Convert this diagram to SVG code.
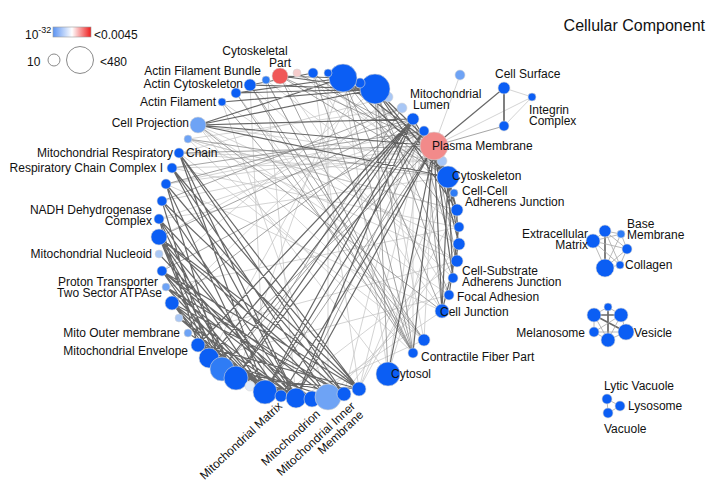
<svg xmlns="http://www.w3.org/2000/svg" width="710" height="481" viewBox="0 0 710 481">
<defs>
<linearGradient id="pg" x1="0" y1="0" x2="1" y2="0">
<stop offset="0" stop-color="#5b93f2"/><stop offset="0.5" stop-color="#ffffff"/><stop offset="1" stop-color="#ee1c1c"/>
</linearGradient>
</defs>
<style>
text{font-family:"Liberation Sans",Arial,sans-serif;font-size:12px;fill:#111}
.t{font-size:16px}
.e1{stroke:#4d4d4d;stroke-width:1.2;fill:none;stroke-opacity:0.85}
.e2{stroke:#7a7a7a;stroke-width:0.8;fill:none;stroke-opacity:0.85}
.e3{stroke:#c2c2c2;stroke-width:0.7;fill:none}
.e4{stroke:#a8a8a8;stroke-width:0.8;fill:none}
.e5{stroke:#6a6a6a;stroke-width:1.7;fill:none}
circle{stroke:#d6d6d6;stroke-width:0.6}
.b{fill:#0b5ef4}.m{fill:#2f7cf5}.l{fill:#6ea3f5}.vl{fill:#a9c7f5}.xl{fill:#e3ecf8}
.pk{fill:#f28a8a}.rd{fill:#f05858}.lp{fill:#f6cccc}
.lg{fill:#fff;stroke:#8a8a8a;stroke-width:1}
</style>
<rect width="710" height="481" fill="#fff"/>
<text class="t" x="705" y="31" text-anchor="end">Cellular Component</text>
<g id="legend">
<text x="25" y="39">10<tspan dy="-6" font-size="9">-32</tspan></text>
<rect x="53" y="27" width="38" height="10" fill="url(#pg)" stroke="#9a9a9a" stroke-width="0.6"/>
<text x="94" y="39">&lt;0.0045</text>
<text x="27" y="66">10</text>
<circle class="lg" cx="54" cy="60" r="6"/>
<circle class="lg" cx="80" cy="60" r="13.5"/>
<text x="100" y="66">&lt;480</text>
</g>
<g id="connectors">
<path class="e3" d="M198 125L459 244M198 125L449 295M198 125L424 340M188 139L457 210M188 139L457 261M179 153L448 177M172 168L442 161M166 184L434 146M266 80L296 398M250 85L265 392M222 102L328 397M313 73L359 389M328 73L328 397M360 83L209 358M343 78L236 378M388 97L172 303M375 89L162 271M402 108L159 237M424 131L166 184M442 161L179 153M448 177L159 219M457 210L188 139M459 227L166 287M457 261L188 333M449 295L209 358M424 340L236 93M413 353L266 80M388 374L343 78M388 374L424 131M359 389L457 210M344 394L459 244M328 397L453 278M312 399L442 311M296 398L424 340M281 396L457 261M413 353L413 119M424 340L434 146M424 340L375 89M388 374L448 177M442 311L280 76M449 295L313 73M453 278L250 85M457 261L222 102M459 227L266 80M454 193L313 73M442 161L198 125M434 146L532 97M434 146L460 75M504 88L532 97M532 97L504 126M360 83L448 177M328 73L434 146M297 73L448 177M188 139L413 353M179 153L424 340M166 184L442 311M198 125L388 374M172 168L457 227M162 201L434 146M159 219L424 131M188 139L402 108M179 153L388 97M359 389L424 131M344 394L413 119M359 389L448 177"/>
<path class="e2" d="M198 125L442 311M188 139L448 177M179 153L434 146M172 168L424 131M166 184L413 119M162 201L402 108M250 85L413 353M236 93L413 353M266 80L413 353M222 102L424 340M250 85L424 340M388 374L375 89M434 146L504 126M434 146L459 227M434 146L457 261M424 131L442 311M413 119L457 261M343 78L459 227M375 89L449 295M375 89L413 353M313 73L448 177M297 73L434 146M280 76L434 146M280 76L448 177M159 237L413 119M162 271L424 131M172 303L413 119M209 358L434 146M222 369L424 131M236 378L402 108M265 392L434 146M296 398L424 131M343 78L442 311M375 89L453 278M313 73L413 353M280 76L413 353M343 78L413 353"/>
<path class="e1" d="M179 153L265 392M179 153L296 398M179 153L344 394M179 153L359 389M172 168L296 398M172 168L328 397M172 168L359 389M166 184L265 392M166 184L344 394M162 201L296 398M162 201L359 389M159 219L281 396M159 219L328 397M159 237L236 378M159 237L265 392M159 237L296 398M159 237L344 394M159 237L359 389M162 271L265 392M162 271L312 399M162 271L359 389M172 303L265 392M172 303L296 398M172 303L344 394M198 345L296 398M198 345L359 389M209 358L328 397M222 369L344 394M159 254L296 398M166 287L312 399M159 237L222 369M159 237L209 358M162 271L236 378M172 303L236 378M172 303L222 369M179 318L265 392M179 318L296 398M188 333L281 396M198 345L265 392M209 358L296 398M222 369L312 399M236 378L359 389M162 201L209 358M166 184L222 369M159 219L236 378M159 219L198 345M166 287L265 392M166 287L344 394M162 271L328 397M413 119L209 358M413 119L222 369M413 119L236 378M413 119L265 392M413 119L296 398M424 131L236 378M424 131L265 392M434 146L281 396M434 146L296 398M413 119L198 345M343 78L448 177M375 89L448 177M375 89L434 146M343 78L434 146M375 89L457 210M448 177L457 210M448 177L459 244M448 177L453 278M448 177L442 311M457 210L457 261M459 227L449 295M459 244L442 311M434 146L448 177M434 146L457 210M434 146L459 244M434 146L453 278M434 146L442 311M424 131L448 177M413 119L448 177M434 146L504 88M434 146L413 353M434 146L388 374M375 89L280 76M343 78L280 76M375 89L250 85M343 78L236 93M250 85L313 73M198 125L343 78M198 125L375 89M222 102L375 89M236 93L375 89M198 125L434 146M198 125L448 177M198 125L413 119"/>
<path class="e5" d="M504 88L504 126M605 231L605 268M621 315L594 315M594 315L626 332M608 307L608 340"/>
<path class="e4" d="M593 241L605 268M605 231L593 241M605 231L627 249M605 231L621 234M593 241L627 249M621 234L605 268M621 234L627 249M627 249L605 268M593 241L620 265M605 231L620 265M605 268L620 265M627 249L620 265M621 234L593 241M608 307L594 315M608 307L621 315M594 315L594 332M594 332L608 340M621 315L626 332M626 332L608 340M594 315L608 340M594 332L626 332M621 315L594 332M621 315L608 340M607 399L620 406M620 406L608 413M607 399L608 413"/>
</g>
<g id="n1"><circle class="l" cx="198" cy="125" r="8"/><text x="189" y="127" text-anchor="end">Cell Projection</text></g>
<g id="n2"><circle class="l" cx="188" cy="139" r="4"/></g>
<g id="n3"><circle class="b" cx="179" cy="153" r="5"/><text y="157"><tspan x="37">Mitochondrial Respiratory</tspan><tspan x="186">Chain</tspan></text></g>
<g id="n4"><circle class="b" cx="172" cy="168" r="5"/><text x="163" y="172" text-anchor="end">Respiratory Chain Complex I</text></g>
<g id="n5"><circle class="b" cx="166" cy="184" r="5"/></g>
<g id="n6"><circle class="b" cx="162" cy="201" r="5"/></g>
<g id="n7"><circle class="b" cx="159" cy="219" r="5"/><text text-anchor="end" font-size="11.5"><tspan x="152" y="214">NADH Dehydrogenase</tspan><tspan x="152" y="225">Complex</tspan></text></g>
<g id="n8"><circle class="b" cx="159" cy="237" r="8"/></g>
<g id="n9"><circle class="vl" cx="159" cy="254" r="4"/><text x="152" y="258" text-anchor="end">Mitochondrial Nucleoid</text></g>
<g id="n10"><circle class="b" cx="162" cy="271" r="5"/></g>
<g id="n11"><circle class="l" cx="166" cy="287" r="4"/><text text-anchor="end" font-size="11.5"><tspan x="158" y="286">Proton Transporter</tspan><tspan x="162" y="297">Two Sector ATPAse</tspan></text></g>
<g id="n12"><circle class="b" cx="172" cy="303" r="7"/></g>
<g id="n13"><circle class="vl" cx="179" cy="318" r="4"/></g>
<g id="n14"><circle class="l" cx="188" cy="333" r="4"/><text x="180" y="337" text-anchor="end">Mito Outer membrane</text></g>
<g id="n15"><circle class="b" cx="198" cy="345" r="7"/><text x="188" y="355" text-anchor="end">Mitochondrial Envelope</text></g>
<g id="n16"><circle class="b" cx="209" cy="358" r="10"/></g>
<g id="n17"><circle class="m" cx="222" cy="369" r="12"/></g>
<g id="n18"><circle class="b" cx="236" cy="378" r="12"/></g>
<g id="n19"><circle class="xl" cx="250" cy="386" r="5"/></g>
<g id="n20"><circle class="b" cx="265" cy="392" r="12"/><text x="283" y="407" text-anchor="end" transform="rotate(-43 283 407)">Mitochondrial Matrix</text></g>
<g id="n21"><circle class="b" cx="281" cy="396" r="6"/></g>
<g id="n22"><circle class="b" cx="296" cy="398" r="10"/></g>
<g id="n23"><circle class="b" cx="312" cy="399" r="8"/><text x="321" y="415" text-anchor="end" transform="rotate(-43 321 415)">Mitochondrion</text></g>
<g id="n24"><circle class="l" cx="328" cy="397" r="13"/></g>
<g id="n25"><circle class="b" cx="344" cy="394" r="7"/><text text-anchor="end" transform="rotate(-43 356 407)"><tspan x="356" y="407">Mitochondrial Inner</tspan><tspan x="356" y="419">Membrane</tspan></text></g>
<g id="n26"><circle class="b" cx="359" cy="389" r="7"/></g>
<g id="n27"><circle class="b" cx="388" cy="374" r="12"/><text x="391" y="378">Cytosol</text></g>
<g id="n28"><circle class="b" cx="413" cy="353" r="5"/><text x="421" y="361">Contractile Fiber Part</text></g>
<g id="n29"><circle class="b" cx="424" cy="340" r="6"/></g>
<g id="n30"><circle class="b" cx="442" cy="311" r="7"/><text x="440" y="316">Cell Junction</text></g>
<g id="n31"><circle class="b" cx="449" cy="295" r="5"/><text x="457" y="301">Focal Adhesion</text></g>
<g id="n32"><circle class="b" cx="453" cy="278" r="5"/><text font-size="11.5"><tspan x="462" y="275">Cell-Substrate</tspan><tspan x="462" y="286">Adherens Junction</tspan></text></g>
<g id="n33"><circle class="b" cx="457" cy="261" r="6"/></g>
<g id="n34"><circle class="b" cx="459" cy="244" r="6"/></g>
<g id="n35"><circle class="b" cx="459" cy="227" r="5"/></g>
<g id="n36"><circle class="b" cx="457" cy="210" r="6"/></g>
<g id="n37"><circle class="m" cx="454" cy="193" r="4"/><text font-size="11.5"><tspan x="462" y="195">Cell-Cell</tspan><tspan x="465" y="206">Adherens Junction</tspan></text></g>
<g id="n38"><circle class="b" cx="448" cy="177" r="11"/><text x="452" y="180">Cytoskeleton</text></g>
<g id="n39"><circle class="vl" cx="442" cy="161" r="5"/></g>
<g id="n40"><circle class="pk" cx="434" cy="146" r="14"/><text x="432" y="150">Plasma Membrane</text></g>
<g id="n41"><circle class="b" cx="424" cy="131" r="5"/></g>
<g id="n42"><circle class="b" cx="413" cy="119" r="6"/><text font-size="11.5"><tspan x="410" y="98">Mitochondrial</tspan><tspan x="413" y="109">Lumen</tspan></text></g>
<g id="n43"><circle class="vl" cx="402" cy="108" r="5"/></g>
<g id="n44"><circle class="vl" cx="388" cy="97" r="5"/></g>
<g id="n45"><circle class="b" cx="375" cy="89" r="15"/></g>
<g id="n46"><circle class="b" cx="360" cy="83" r="5"/></g>
<g id="n47"><circle class="b" cx="343" cy="78" r="14"/></g>
<g id="n48"><circle class="b" cx="328" cy="73" r="4"/></g>
<g id="n49"><circle class="b" cx="313" cy="73" r="5"/></g>
<g id="n50"><circle class="lp" cx="297" cy="73" r="4"/></g>
<g id="n51"><circle class="rd" cx="280" cy="76" r="8"/><text text-anchor="middle"><tspan x="255" y="55">Cytoskeletal</tspan><tspan x="280" y="67">Part</tspan></text></g>
<g id="n52"><circle class="m" cx="266" cy="80" r="4"/><text x="261" y="75" text-anchor="end">Actin Filament Bundle</text></g>
<g id="n53"><circle class="b" cx="250" cy="85" r="6"/><text x="243" y="88" text-anchor="end">Actin Cytoskeleton</text></g>
<g id="n54"><circle class="b" cx="236" cy="93" r="5"/></g>
<g id="n55"><circle class="b" cx="222" cy="102" r="4"/><text x="216" y="106" text-anchor="end">Actin Filament</text></g>
<g id="n56"><circle class="l" cx="460" cy="75" r="5"/></g>
<g id="n57"><circle class="b" cx="504" cy="88" r="6"/><text x="495" y="78">Cell Surface</text></g>
<g id="n58"><circle class="b" cx="532" cy="97" r="4"/><text font-size="11.5"><tspan x="529" y="114">Integrin</tspan><tspan x="529" y="125">Complex</tspan></text></g>
<g id="n59"><circle class="b" cx="504" cy="126" r="5"/></g>
<g id="e1n"><circle class="b" cx="605" cy="231" r="6"/></g>
<g id="e2n"><circle class="m" cx="621" cy="234" r="4"/><text font-size="11.5"><tspan x="627" y="228">Base</tspan><tspan x="627" y="239">Membrane</tspan></text></g>
<g id="e3n"><circle class="b" cx="593" cy="241" r="7"/><text text-anchor="end" font-size="11.5"><tspan x="588" y="238">Extracellular</tspan><tspan x="588" y="249">Matrix</tspan></text></g>
<g id="e4n"><circle class="b" cx="627" cy="249" r="5"/></g>
<g id="e5n"><circle class="b" cx="605" cy="268" r="9"/></g>
<g id="e6n"><circle class="b" cx="620" cy="265" r="4"/><text x="625" y="269">Collagen</text></g>
<g id="v1"><circle class="b" cx="608" cy="307" r="4"/></g>
<g id="v2"><circle class="b" cx="594" cy="315" r="7"/></g>
<g id="v3"><circle class="b" cx="621" cy="315" r="7"/></g>
<g id="v4"><circle class="b" cx="594" cy="332" r="5"/><text x="585" y="337" text-anchor="end">Melanosome</text></g>
<g id="v5"><circle class="b" cx="626" cy="332" r="8"/><text x="634" y="337">Vesicle</text></g>
<g id="v6"><circle class="b" cx="608" cy="340" r="7"/></g>
<g id="lv1"><circle class="b" cx="607" cy="399" r="5"/><text x="604" y="390">Lytic Vacuole</text></g>
<g id="lv2"><circle class="b" cx="620" cy="406" r="5"/><text x="628" y="410">Lysosome</text></g>
<g id="lv3"><circle class="b" cx="608" cy="413" r="5"/><text x="604" y="433">Vacuole</text></g>
</svg>
